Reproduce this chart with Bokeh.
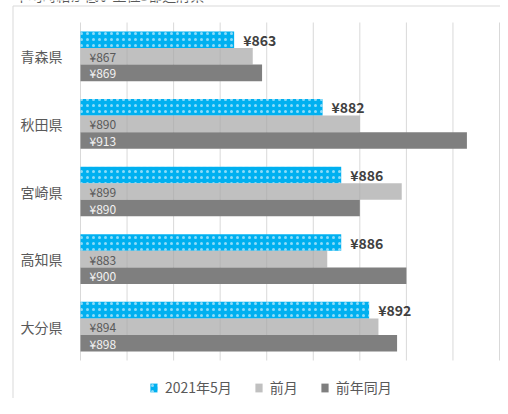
from bokeh.plotting import figure
from bokeh.models import ColumnDataSource, Range1d, Legend, LegendItem, Label
from bokeh.core.properties import value
from bokeh.embed import file_html
from bokeh.resources import INLINE

# ---- data ----
prefectures = ["青森県", "秋田県", "宮崎県", "高知県", "大分県"]
may_2021 = [863, 882, 886, 886, 892]
prev_month = [867, 890, 899, 883, 894]
prev_year = [869, 913, 890, 900, 898]
series_names = ["2021年5月", "前月", "前年同月"]
title_text = "平均時給が低い上位5都道府県"
x_min, x_max, x_step = 830, 920, 10

# ---- style / layout constants ----
FONT = "Noto Sans CJK JP"
BLUE = "#00B0F0"
LIGHT = "#a5a5a5"
DARK = "#7f7f7f"
GRID = "#d9d9d9"
TXT = "#595959"

W, H = 500, 398            # canvas size
PL, PR = 80, 499           # pixel span of the value axis
BT, BB = 22, 360           # pixel span of the category band
n = len(prefectures)

ppx = (PR - PL) / (x_max - x_min)
x_start = x_min - PL / ppx
x_end = x_max + (W - PR) / ppx
ppy = (BB - BT) / n
y_start = -0.5 - (H - BB) / ppy
y_end = n - 0.5 + BT / ppy


def xdata(px):
    return x_start + px / ppx


def ydata(py):
    return y_end - py / ppy


bh = 0.245
yc = [n - 1 - i for i in range(n)]

src = ColumnDataSource(dict(
    pref=prefectures, yc=yc,
    y_top=[v + bh for v in yc], y_mid=yc, y_bot=[v - bh for v in yc],
    may=may_2021, prev=prev_month, year=prev_year,
    base=[x_min] * n,
    may_lbl=[f"¥{v}" for v in may_2021],
    prev_lbl=[f"¥{v}" for v in prev_month],
    year_lbl=[f"¥{v}" for v in prev_year],
))

p = figure(width=W, height=H,
           x_range=Range1d(x_start, x_end), y_range=Range1d(y_start, y_end),
           output_backend="svg", toolbar_location=None,
           min_border=0, min_border_left=0, min_border_right=0,
           min_border_top=0, min_border_bottom=0)
p.outline_line_color = None
p.background_fill_color = "white"
p.border_fill_color = "white"
p.axis.visible = False
p.grid.visible = False

# vertical gridlines
ticks = list(range(x_min, x_max + 1, x_step))
p.segment(x0=ticks, x1=ticks, y0=[-0.5] * len(ticks), y1=[n - 0.5] * len(ticks),
          line_color=GRID, line_width=1)

r1 = p.hbar(y="y_top", left="base", right="may", height=bh, source=src,
            fill_color=BLUE, line_color=None,
            hatch_pattern="dot", hatch_color="white", hatch_scale=6,
            hatch_weight=0.5, hatch_alpha=0.55)
r2 = p.hbar(y="y_mid", left="base", right="prev", height=bh, source=src,
            fill_color=LIGHT, fill_alpha=0.7, line_color=None)
r3 = p.hbar(y="y_bot", left="base", right="year", height=bh, source=src,
            fill_color=DARK, line_color=None)

p.text(x="may", y="y_top", text="may_lbl", source=src, x_offset=9,
       text_baseline="middle", text_font=value(FONT), text_font_size="14px",
       text_font_style="bold", text_color="#404040")
p.text(x="base", y="y_mid", text="prev_lbl", source=src, x_offset=9,
       text_baseline="middle", text_font=value(FONT), text_font_size="12px",
       text_color=TXT)
p.text(x="base", y="y_bot", text="year_lbl", source=src, x_offset=9,
       text_baseline="middle", text_font=value(FONT), text_font_size="12px",
       text_color="#f2f2f2")

# category labels
p.text(x="base", y="yc", text="pref", source=src, x_offset=-18,
       text_align="right", text_baseline="middle", text_font=value(FONT),
       text_font_size="14px", text_color=TXT)

# chart-area border (left and top edges)
bx, by = xdata(12.5), ydata(5.5)
p.line(x=[bx, bx, x_end + 10], y=[y_start - 1, by, by], line_color=GRID, line_width=1)

# clipped chart title
p.add_layout(Label(x=xdata(14), y=ydata(4.5), text=title_text,
                   text_baseline="bottom", text_font=FONT,
                   text_font_size="14px", text_color=TXT))

# legend
legend = Legend(items=[LegendItem(label=series_names[0], renderers=[r1]),
                       LegendItem(label=series_names[1], renderers=[r2]),
                       LegendItem(label=series_names[2], renderers=[r3])],
                orientation="horizontal", location=(149, 1),
                glyph_width=9, glyph_height=11, label_height=18,
                label_standoff=7, spacing=22, padding=0, margin=0,
                border_line_color=None, background_fill_alpha=0,
                label_text_font=FONT, label_text_font_size="14px",
                label_text_color=TXT)
p.add_layout(legend)

open("out.html", "w").write(file_html(p, INLINE))
